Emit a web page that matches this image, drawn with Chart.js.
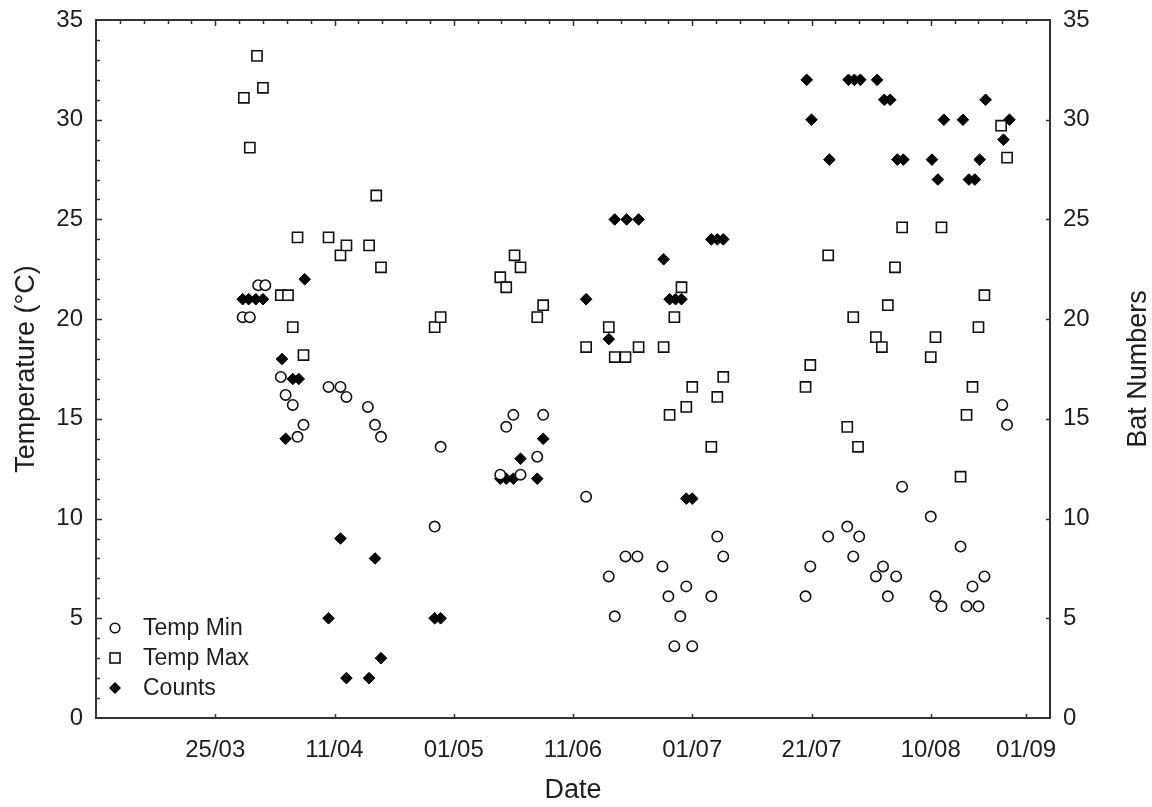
<!DOCTYPE html>
<html lang="en">
<head>
<meta charset="UTF-8" />
<title>Temperature and bat counts</title>
<script src="https://cdn.jsdelivr.net/npm/chart.js"></script>
<style>
  body { margin: 0; background: #fff; }
  #wrap { width: 1152px; height: 807px; position: relative; }
</style>
</head>
<body>
<div id="wrap"><canvas id="batChart"></canvas></div>
<script>
// x axis is an evenly spaced sampling axis, labelled with dates
const xTickPos = [10, 20, 30, 40, 50, 60, 70, 78];
const xTickLabels = ['25/03', '11/04', '01/05', '11/06', '01/07', '21/07', '10/08', '01/09'];
const yTicks = [0, 5, 10, 15, 20, 25, 30, 35];

const minX = [12.3, 12.9, 13.6, 14.2, 15.5, 15.9, 16.5, 16.9, 17.4, 19.5, 20.5, 21.0, 22.8, 23.4, 23.9,
  28.4, 28.9, 33.9, 34.4, 35.0, 35.6, 37.0, 37.5, 41.1, 43.0, 43.5, 44.4, 45.4, 47.5, 48.0, 48.5, 49.0,
  49.5, 50.0, 51.6, 52.1, 52.6, 59.5, 59.9, 61.4, 63.0, 63.5, 64.0, 65.4, 66.0, 66.4, 67.1, 67.6, 70.0,
  70.4, 70.9, 72.5, 73.0, 73.5, 74.0, 74.5, 76.0, 76.4];
const minY = [20.1, 20.1, 21.7, 21.7, 17.1, 16.2, 15.7, 14.1, 14.7, 16.6, 16.6, 16.1, 15.6, 14.7, 14.1,
  9.6, 13.6, 12.2, 14.6, 15.2, 12.2, 13.1, 15.2, 11.1, 7.1, 5.1, 8.1, 8.1, 7.6, 6.1, 3.6, 5.1,
  6.6, 3.6, 6.1, 9.1, 8.1, 6.1, 7.6, 9.1, 9.6, 8.1, 9.1, 7.1, 7.6, 6.1, 7.1, 11.6, 10.1,
  6.1, 5.6, 8.6, 5.6, 6.6, 5.6, 7.1, 15.7, 14.7];

const maxX = [12.4, 12.9, 13.5, 14.0, 15.5, 16.1, 16.5, 16.9, 17.4, 19.5, 20.5, 21.0, 22.9, 23.5, 23.9,
  28.4, 28.9, 33.9, 34.4, 35.1, 35.6, 37.0, 37.5, 41.1, 43.0, 43.5, 44.4, 45.5, 47.6, 48.1, 48.5, 49.1,
  49.5, 50.0, 51.6, 52.1, 52.6, 59.5, 59.9, 61.4, 63.0, 63.5, 63.9, 65.4, 65.9, 66.4, 67.0, 67.6, 70.0,
  70.4, 70.9, 72.5, 73.0, 73.5, 74.0, 74.5, 75.9, 76.4];
const maxY = [31.1, 28.6, 33.2, 31.6, 21.2, 21.2, 19.6, 24.1, 18.2, 24.1, 23.2, 23.7, 23.7, 26.2, 22.6,
  19.6, 20.1, 22.1, 21.6, 23.2, 22.6, 20.1, 20.7, 18.6, 19.6, 18.1, 18.1, 18.6, 18.6, 15.2, 20.1, 21.6,
  15.6, 16.6, 13.6, 16.1, 17.1, 16.6, 17.7, 23.2, 14.6, 20.1, 13.6, 19.1, 18.6, 20.7, 22.6, 24.6, 18.1,
  19.1, 24.6, 12.1, 15.2, 16.6, 19.6, 21.2, 29.7, 28.1];

const countX = [12.3, 12.8, 13.4, 14.0, 15.6, 15.9, 16.5, 17.0, 17.5, 19.5, 20.5, 21.0, 22.9, 23.4, 23.9,
  28.4, 28.9, 33.9, 34.4, 35.0, 35.6, 37.0, 37.5, 41.1, 43.0, 43.5, 44.5, 45.5, 47.6, 48.1, 48.6, 49.1,
  49.5, 50.0, 51.6, 52.1, 52.6, 59.6, 60.0, 61.5, 63.1, 63.6, 64.1, 65.5, 66.1, 66.6, 67.2, 67.7, 70.1,
  70.6, 71.1, 72.7, 73.2, 73.7, 74.1, 74.6, 76.1, 76.6];
const countY = [21, 21, 21, 21, 18, 14, 17, 17, 22, 5, 9, 2, 2, 8, 3,
  5, 5, 12, 12, 12, 13, 12, 14, 21, 19, 25, 25, 25, 23, 21, 21, 21,
  11, 11, 24, 24, 24, 32, 30, 28, 32, 32, 32, 32, 31, 31, 28, 28, 28,
  27, 30, 30, 27, 27, 28, 31, 29, 30];

const toPoints = (xs, ys) => xs.map((x, i) => ({ x: x, y: ys[i] }));

const textColor = '#1e1e1e';
const fontFamily = 'Arial, "Liberation Sans", sans-serif';
Chart.defaults.font.family = fontFamily;
Chart.defaults.color = textColor;

// frame with inward ticks, legend inside the plot, right axis title
const framePlugin = {
  id: 'frame',
  afterDraw(chart) {
    const ctx = chart.ctx;
    const a = chart.chartArea;
    const xs = chart.scales.x, ys = chart.scales.y;
    ctx.save();
    ctx.strokeStyle = '#333';
    ctx.lineWidth = 2;
    ctx.strokeRect(a.left, a.top, a.right - a.left, a.bottom - a.top);
    ctx.lineWidth = 1.5;
    ctx.beginPath();
    for (let v = 1; v < 35; v++) {
      const y = Math.round(ys.getPixelForValue(v)) + 0.5;
      const len = v % 5 === 0 ? 6 : 4;
      ctx.moveTo(a.left, y); ctx.lineTo(a.left + len, y);
      if (v % 5 === 0) { ctx.moveTo(a.right, y); ctx.lineTo(a.right - 4, y); }
    }
    for (let v = 2; v < 80; v += 2) {
      const x = Math.round(xs.getPixelForValue(v)) + 0.5;
      const len = v % 10 === 0 ? 6 : 4;
      ctx.moveTo(x, a.top); ctx.lineTo(x, a.top + len);
    }
    xTickPos.forEach(v => {
      const x = Math.round(xs.getPixelForValue(v)) + 0.5;
      ctx.moveTo(x, a.bottom); ctx.lineTo(x, a.bottom - 4);
    });
    ctx.stroke();

    // legend
    const rows = [a.bottom - 90, a.bottom - 60, a.bottom - 30];
    const mx = a.left + 19;
    ctx.fillStyle = textColor;
    ctx.font = '23px ' + fontFamily;
    ctx.textAlign = 'left';
    ctx.textBaseline = 'middle';
    chart.data.datasets.forEach((ds, i) => {
      const y = rows[i];
      ctx.strokeStyle = '#111';
      ctx.lineWidth = 1.6;
      ctx.beginPath();
      if (ds.pointStyle === 'circle') {
        ctx.arc(mx, y, 4.8, 0, Math.PI * 2);
        ctx.stroke();
      } else if (ds.pointStyle === 'rect') {
        ctx.strokeRect(mx - 5, y - 5, 10, 10);
      } else {
        ctx.moveTo(mx, y - 6); ctx.lineTo(mx + 6, y); ctx.lineTo(mx, y + 6); ctx.lineTo(mx - 6, y);
        ctx.closePath();
        ctx.fillStyle = '#000';
        ctx.fill();
        ctx.fillStyle = textColor;
      }
      ctx.fillText(ds.label, a.left + 47, y + 1);
    });

    // right axis title, reading bottom to top
    ctx.save();
    ctx.translate(chart.width - 13, (a.top + a.bottom) / 2);
    ctx.rotate(-Math.PI / 2);
    ctx.textAlign = 'center';
    ctx.font = '27px ' + fontFamily;
    ctx.fillText('Bat Numbers', 0, 0);
    ctx.restore();
    ctx.restore();
  }
};

const ctx = document.getElementById('batChart').getContext('2d');
new Chart(ctx, {
  type: 'scatter',
  data: {
    datasets: [{
      label: 'Temp Min',
      data: toPoints(minX, minY),
      pointStyle: 'circle',
      pointRadius: 5.2,
      borderWidth: 1.6,
      borderColor: '#111',
      backgroundColor: '#fff',
      yAxisID: 'y'
    }, {
      label: 'Temp Max',
      data: toPoints(maxX, maxY),
      pointStyle: 'rect',
      pointRadius: 7.2,
      borderWidth: 1.6,
      borderColor: '#111',
      backgroundColor: '#fff',
      yAxisID: 'y'
    }, {
      label: 'Counts',
      data: toPoints(countX, countY),
      pointStyle: 'rectRot',
      pointRadius: 5.8,
      borderWidth: 1,
      borderColor: '#000',
      backgroundColor: '#000',
      yAxisID: 'y2'
    }]
  },
  options: {
    responsive: true,
    maintainAspectRatio: false,
    animation: false,
    events: [],
    layout: { padding: { top: 20, left: 0, right: 0, bottom: 0 } },
    plugins: {
      legend: { display: false },
      tooltip: { enabled: false }
    },
    scales: {
      x: {
        type: 'linear',
        position: 'bottom',
        min: 0,
        max: 80,
        afterBuildTicks: s => { s.ticks = xTickPos.map(v => ({ value: v })); },
        afterFit: s => { s.height = 89; },
        ticks: {
          autoSkip: false,
          maxRotation: 0,
          padding: 18,
          font: { size: 24 },
          callback: (v, i) => xTickLabels[i]
        },
        grid: { display: false, drawTicks: false },
        border: { display: false },
        title: {
          display: true,
          text: 'Date',
          font: { size: 27 },
          padding: { top: 0, bottom: 0 }
        }
      },
      y: {
        position: 'left',
        min: 0,
        max: 35,
        afterBuildTicks: s => { s.ticks = yTicks.map(v => ({ value: v })); },
        afterFit: s => { s.width = 96; s.paddingTop = 0; },
        ticks: { padding: 13, font: { size: 24 } },
        grid: { display: false, drawTicks: false },
        border: { display: false },
        title: {
          display: true,
          text: 'Temperature (°C)',
          font: { size: 27 },
          padding: { top: 10, bottom: 0 }
        }
      },
      y2: {
        position: 'right',
        min: 0,
        max: 35,
        afterBuildTicks: s => { s.ticks = yTicks.map(v => ({ value: v })); },
        afterFit: s => { s.width = 102; s.paddingTop = 0; },
        ticks: { padding: 13, font: { size: 24 } },
        grid: { display: false, drawTicks: false },
        border: { display: false }
      }
    }
  },
  plugins: [framePlugin]
});
</script>
</body>
</html>
